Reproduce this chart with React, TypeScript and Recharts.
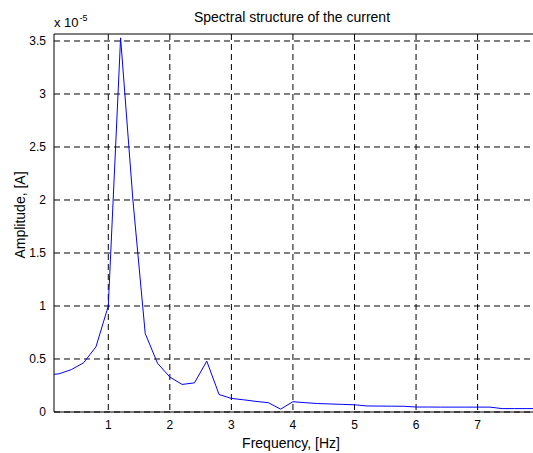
import React from "react";
import { LineChart, Line, XAxis, YAxis, CartesianGrid } from "recharts";

// spectrum samples, amplitude given in units of 1e-5 A (as on the axis)
const FREQ_HZ = [
  0, 0.2, 0.4, 0.6, 0.8, 1.0, 1.2, 1.4, 1.6, 1.8, 2.0, 2.2, 2.4, 2.6, 2.8, 3.0,
  3.2, 3.4, 3.6, 3.8, 4.0, 4.2, 4.4, 4.6, 4.8, 5.0, 5.2, 5.4, 5.6, 5.8, 6.0,
  6.2, 6.4, 6.6, 6.8, 7.0, 7.2, 7.4, 7.6, 7.8, 8.0,
];
const AMPLITUDE_E5 = [
  0.35, 0.36, 0.4, 0.465, 0.615, 1.0, 3.53, 2.0, 0.74, 0.46, 0.33, 0.26, 0.275,
  0.48, 0.165, 0.128, 0.115, 0.1, 0.088, 0.027, 0.097, 0.088, 0.08, 0.076,
  0.072, 0.068, 0.057, 0.056, 0.055, 0.054, 0.047, 0.047, 0.046, 0.046, 0.046,
  0.046, 0.046, 0.032, 0.032, 0.032, 0.032,
];

const X_TICKS = [1, 2, 3, 4, 5, 6, 7];
const Y_TICKS = [0, 0.5, 1, 1.5, 2, 2.5, 3, 3.5];

const FONT = "'Liberation Sans', Arial, Helvetica, sans-serif";
const W = 533;
const H = 453;
const X_DOMAIN = [0.118, 7.9];
const Y_DOMAIN = [0, 3.566];

const data = FREQ_HZ.map((f, i) => ({ f, a: AMPLITUDE_E5[i] }));

export default function App() {
  const tickStyle = { fill: "#000", fontSize: 12, fontFamily: FONT };
  return (
    <div style={{ position: "absolute", left: 0, top: 0, width: W, height: H, background: "#fff" }}>
      <LineChart
        width={W}
        height={H}
        data={data}
        margin={{ top: 33, right: 0, bottom: 0, left: 0 }}
      >
        <CartesianGrid
          stroke="#000"
          strokeDasharray="6 4"
          strokeWidth={1}
          syncWithTicks
        />
        <XAxis
          dataKey="f"
          type="number"
          domain={X_DOMAIN}
          allowDataOverflow
          ticks={X_TICKS}
          height={41}
          axisLine={{ stroke: "#000" }}
          tickLine={false}
          tick={tickStyle}
          tickSize={0}
          tickMargin={8}
        />
        <XAxis
          xAxisId="top"
          orientation="top"
          dataKey="f"
          type="number"
          domain={X_DOMAIN}
          allowDataOverflow
          ticks={X_TICKS}
          height={1}
          axisLine={{ stroke: "#000" }}
          tickLine={false}
          tick={false}
        />
        <YAxis
          type="number"
          domain={Y_DOMAIN}
          allowDataOverflow
          ticks={Y_TICKS}
          width={54}
          axisLine={{ stroke: "#000" }}
          tickLine={false}
          tick={tickStyle}
          tickSize={0}
          tickMargin={8}
        />
        <Line
          type="linear"
          dataKey="a"
          stroke="#0000ff"
          strokeWidth={1}
          dot={false}
          isAnimationActive={false}
        />
      </LineChart>
      <svg
        width={W}
        height={H}
        style={{ position: "absolute", left: 0, top: 0, pointerEvents: "none" }}
        fontFamily={FONT}
      >
        <text x={292} y={21.5} textAnchor="middle" fontSize={14} fill="#000">
          Spectral structure of the current
        </text>
        <text x={291} y={448} textAnchor="middle" fontSize={14} fill="#000">
          Frequency, [Hz]
        </text>
        <text
          transform="translate(24.5,215) rotate(-90)"
          textAnchor="middle"
          fontSize={14}
          fill="#000"
        >
          Amplitude, [A]
        </text>
        <text x={54} y={27} fontSize={13} fill="#000">
          x 10
          <tspan fontSize={9} dx={1} dy={-6}>
            -5
          </tspan>
        </text>
      </svg>
    </div>
  );
}
